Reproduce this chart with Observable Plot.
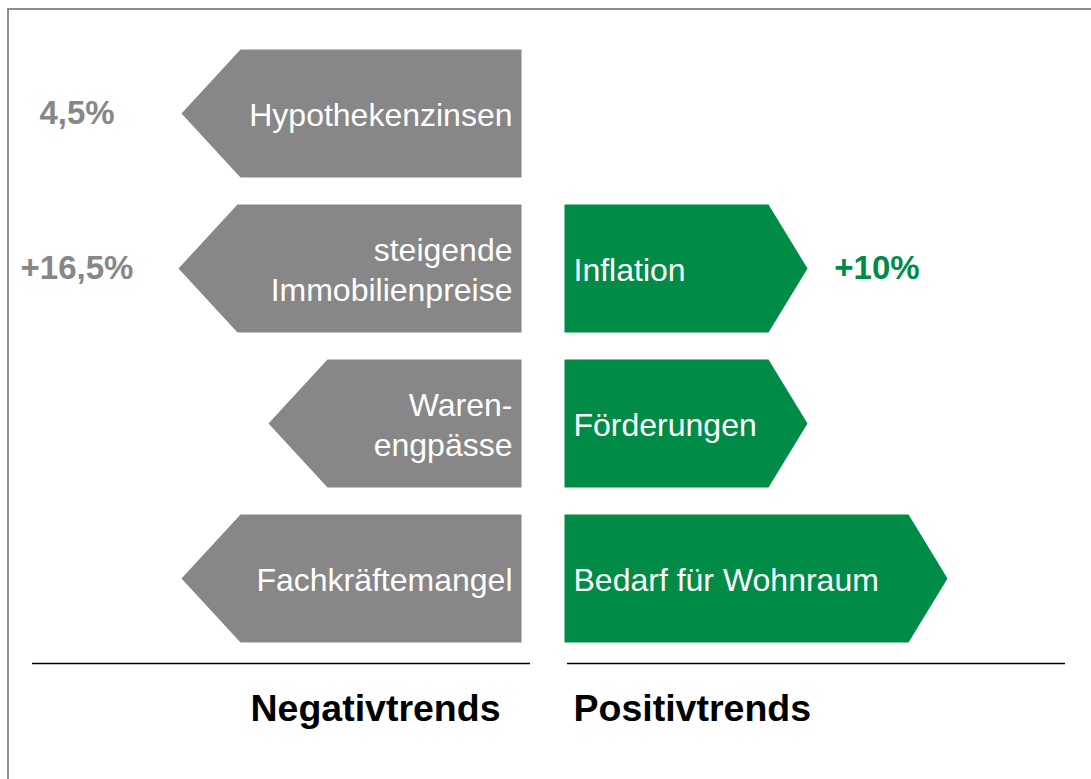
<!DOCTYPE html>
<html>
<head>
<meta charset="utf-8">
<script src="https://cdn.jsdelivr.net/npm/d3@7"></script>
<script src="https://cdn.jsdelivr.net/npm/@observablehq/plot@0.6"></script>
<style>
  html, body { margin: 0; padding: 0; width: 1091px; height: 779px; overflow: hidden; background: #fff; }
  #frame { position: absolute; left: 7px; top: 8px; width: 1200px; height: 900px; border: 2px solid #8c8c8c; box-sizing: border-box; }
  #chart { position: absolute; left: 0; top: 0; }
</style>
</head>
<body>
<div id="frame"></div>
<div id="chart"></div>
<script>
// ---- data ----
const negCategories = ["Hypothekenzinsen", "steigende\nImmobilienpreise", "Waren-\nengpässe", "Fachkräftemangel"];
const negLengths = [340, 343, 253, 340];
const negValues = ["4,5%", "+16,5%", "", ""];
const posCategories = ["Inflation", "Förderungen", "Bedarf für Wohnraum"];
const posLengths = [243, 243, 383];
const posValues = ["+10%", "", ""];
const groupTitles = ["Negativtrends", "Positivtrends"];

// ---- layout constants ----
const negRows = [0, 1, 2, 3];
const posRows = [1, 2, 3];
const gap = 21.5;      // half gap between the two arrow columns
const half = 64 / 155; // half arrow height in row units
const negHead = 59, posHead = 39;
const grey = "#878787", green = "#008b47";
const font = "'Liberation Sans', Arial, Helvetica, sans-serif";

const negPts = [], posPts = [];
negCategories.forEach((c, i) => {
  const r = negRows[i], L = negLengths[i];
  [[-gap, r - half], [-gap, r + half], [-gap - L + negHead, r + half], [-gap - L, r], [-gap - L + negHead, r - half], [-gap, r - half]]
    .forEach(([x, y]) => negPts.push({id: c, x, y}));
});
posCategories.forEach((c, i) => {
  const r = posRows[i], L = posLengths[i];
  [[gap, r - half], [gap + L - posHead, r - half], [gap + L, r], [gap + L - posHead, r + half], [gap, r + half], [gap, r - half]]
    .forEach(([x, y]) => posPts.push({id: c, x, y}));
});

const negLabels = negCategories.map((c, i) => ({label: c, row: negRows[i], value: negValues[i]}));
const posLabels = posCategories.map((c, i) => ({label: c, row: posRows[i], value: posValues[i]}));

const ruleRow = (663 - 113) / 155;
const titleRow = (708 - 113) / 155;

const chart = Plot.plot({
  width: 1091,
  height: 779,
  margin: 0,
  style: {background: "transparent", overflow: "visible", fontFamily: font},
  x: {type: "linear", domain: [-542.5, 548.5], range: [0, 1091], axis: null},
  y: {type: "linear", domain: [-113 / 155, (779 - 113) / 155], range: [0, 779], axis: null},
  marks: [
    Plot.line(negPts, {x: "x", y: "y", z: "id", fill: grey, stroke: "none", curve: "linear"}),
    Plot.line(posPts, {x: "x", y: "y", z: "id", fill: green, stroke: "none", curve: "linear"}),
    Plot.text(negLabels, {x: -gap - 9, y: "row", text: "label", textAnchor: "end", lineAnchor: "middle", fill: "white", fontSize: 32, lineHeight: 1.22, fontFamily: font}),
    Plot.text(posLabels, {x: gap + 9, y: "row", text: "label", textAnchor: "start", lineAnchor: "middle", fill: "white", fontSize: 32, lineHeight: 1.22, fontFamily: font}),
    Plot.text(negLabels.filter(d => d.value), {x: -466, y: "row", text: "value", textAnchor: "middle", lineAnchor: "middle", fill: grey, fontSize: 33, fontWeight: "bold", fontFamily: font}),
    Plot.text(posLabels.filter(d => d.value), {x: 334, y: "row", text: "value", textAnchor: "middle", lineAnchor: "middle", fill: green, fontSize: 33, fontWeight: "bold", fontFamily: font}),
    Plot.ruleY([ruleRow], {x1: -510.5, x2: -12.5, stroke: "black", strokeWidth: 1.3}),
    Plot.ruleY([ruleRow], {x1: 24.5, x2: 522.5, stroke: "black", strokeWidth: 1.3}),
    Plot.text([groupTitles[0]], {x: -167.5, y: titleRow, text: d => d, textAnchor: "middle", lineAnchor: "middle", fill: "black", fontSize: 37.5, fontWeight: "bold", fontFamily: font}),
    Plot.text([groupTitles[1]], {x: 30.5, y: titleRow, text: d => d, textAnchor: "start", lineAnchor: "middle", fill: "black", fontSize: 37.5, fontWeight: "bold", fontFamily: font})
  ]
});
document.getElementById("chart").appendChild(chart);
</script>
</body>
</html>
